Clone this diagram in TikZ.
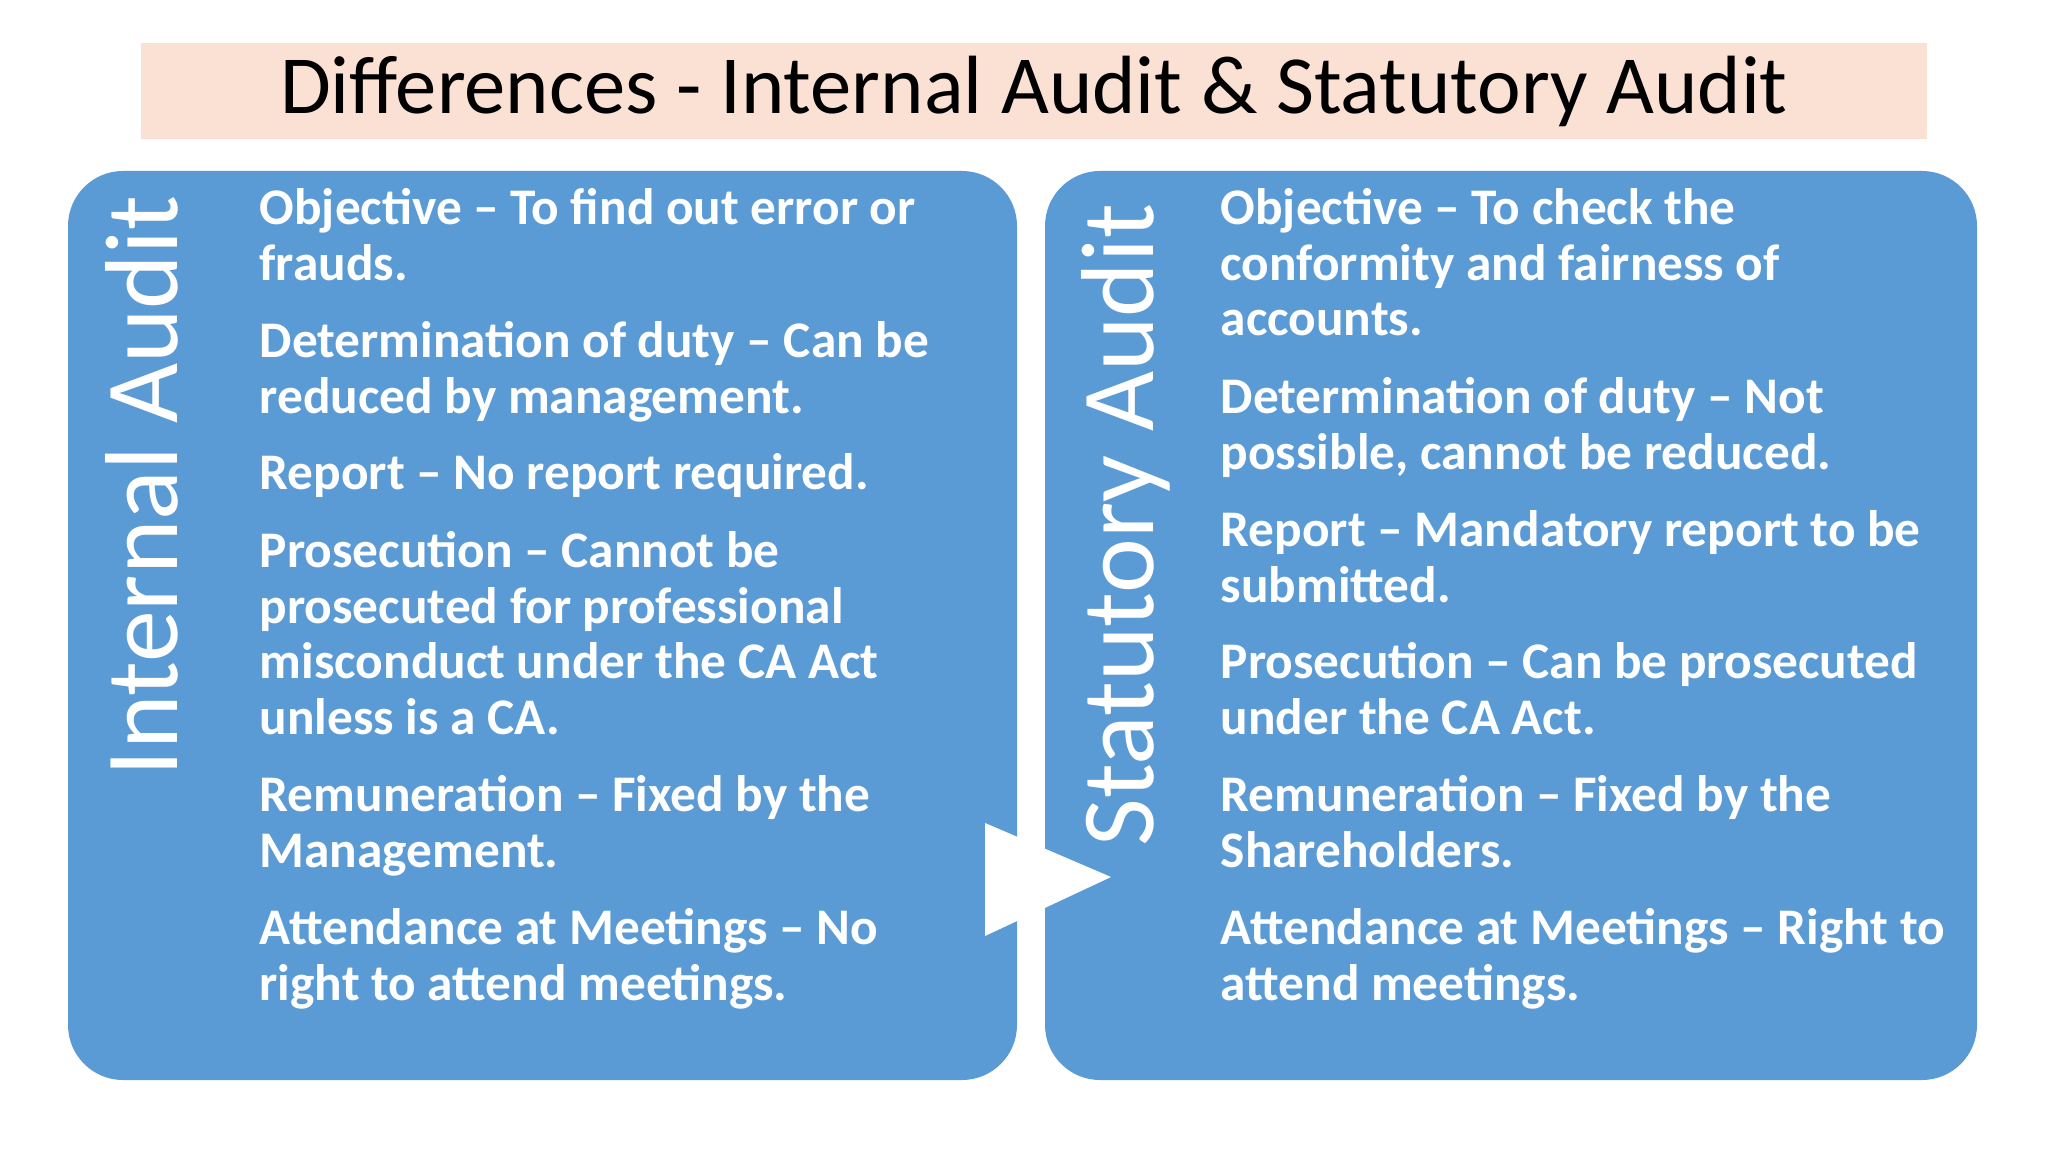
\documentclass[tikz,border=0pt]{standalone}
\usepackage{fontspec}
\setmainfont{Carlito}
\begin{document}
\begin{tikzpicture}[x=0.01cm,y=-0.01cm,
 box/.style={fill=blueA,rounded corners=0.55cm},
 item/.style={anchor=north west,align=left,text=white,font=\fontsize{14.6}{15.8}\selectfont\bfseries,inner sep=0},
 side/.style={rotate=90,text=white,font=\fontsize{29.5}{34}\selectfont}]
\definecolor{blueA}{HTML}{5B9BD5}
\definecolor{peach}{HTML}{FBE0D4}
\useasboundingbox (0,0) rectangle (2048,1152);
\fill[white] (0,0) rectangle (2048,1152);
\node[fill=peach,minimum width=17.84cm,minimum height=0.96cm,font=\fontsize{23.5}{28}\selectfont] (title) at (1034,91) {Differences - Internal Audit \& Statutory Audit};
\fill[box] (68,171) rectangle (1017,1080);
\fill[box] (1045,171) rectangle (1977,1080);
\coordinate (t1) at (985,823); \coordinate (t2) at (985,936); \coordinate (t3) at (1111,877);
\fill[white] (t1) -- (t3) -- (t2) -- cycle;
\node[side] (ia) at (142,486) {Internal Audit};
\node[side] (sa) at (1126,525) {Statutory Audit};
\node[item] (l1) at (259,188) {Objective – To find out error or\\frauds.};
\node[item] (l2) at (259,321) {Determination of duty – Can be\\reduced by management.};
\node[item] (l3) at (259,453) {Report – No report required.};
\node[item] (l4) at (259,531) {Prosecution – Cannot be\\prosecuted for professional\\misconduct under the CA Act\\unless is a CA.};
\node[item] (l5) at (259,775) {Remuneration – Fixed by the\\Management.};
\node[item] (l6) at (259,908) {Attendance at Meetings – No\\right to attend meetings.};
\node[item] (r1) at (1220,188) {Objective – To check the\\conformity and fairness of\\accounts.};
\node[item] (r2) at (1220,377) {Determination of duty – Not\\possible, cannot be reduced.};
\node[item] (r3) at (1220,510) {Report – Mandatory report to be\\submitted.};
\node[item] (r4) at (1220,642) {Prosecution – Can be prosecuted\\under the CA Act.};
\node[item] (r5) at (1220,775) {Remuneration – Fixed by the\\Shareholders.};
\node[item] (r6) at (1220,908) {Attendance at Meetings – Right to\\attend meetings.};
\end{tikzpicture}
\end{document}
